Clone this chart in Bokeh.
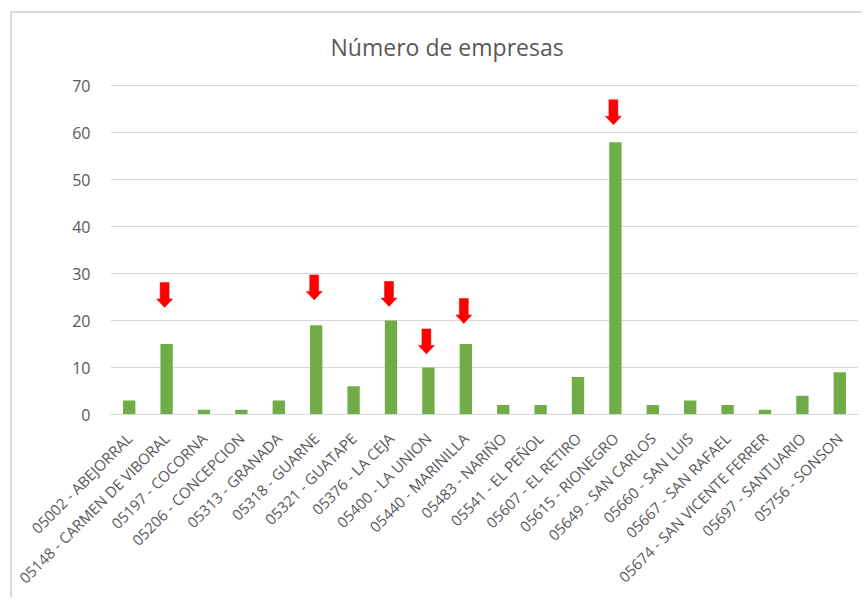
import math
from bokeh.plotting import figure
from bokeh.models import ColumnDataSource, FactorRange, Range1d, FixedTicker
from bokeh.embed import file_html
from bokeh.resources import INLINE
from bokeh.core.properties import value

# ---- data ----
categories = [
    "05002 - ABEJORRAL", "05148 - CARMEN DE VIBORAL", "05197 - COCORNA",
    "05206 - CONCEPCION", "05313 - GRANADA", "05318 - GUARNE", "05321 - GUATAPE",
    "05376 - LA CEJA", "05400 - LA UNION", "05440 - MARINILLA", "05483 - NARIÑO",
    "05541 - EL PEÑOL", "05607 - EL RETIRO", "05615 - RIONEGRO",
    "05649 - SAN CARLOS", "05660 - SAN LUIS", "05667 - SAN RAFAEL",
    "05674 - SAN VICENTE FERRER", "05697 - SANTUARIO", "05756 - SONSON",
]
empresas = [3, 15, 1, 1, 3, 19, 6, 20, 10, 15, 2, 2, 8, 58, 2, 3, 2, 1, 4, 9]
y_ticks = [0, 10, 20, 30, 40, 50, 60, 70]

# categories marked with red arrows, and the value where each arrow tip points
arrow_categories = [
    "05148 - CARMEN DE VIBORAL", "05318 - GUARNE", "05376 - LA CEJA",
    "05400 - LA UNION", "05440 - MARINILLA", "05615 - RIONEGRO",
]
arrow_tips = [22.8, 24.4, 23.0, 12.9, 19.4, 61.7]

title_text = "Número de empresas"

# ---- styles ----
FONT = "Open Sans"
TEXT_COLOR = "#595959"
GRID_COLOR = "#d9d9d9"
BAR_COLOR = "#70ad47"
ARROW_COLOR = "#ff0000"

FRAME_W = 748
PX_PER_UNIT_Y = 4.7                  # 70 units span 329 px
Y_TOP = 82                           # headroom above the last tick holds the title
FRAME_H = round(Y_TOP * PX_PER_UNIT_Y)
px_x = FRAME_W / len(categories)     # pixels per category unit
px_y = FRAME_H / Y_TOP               # pixels per value unit

p = figure(
    x_range=FactorRange(*categories),
    y_range=Range1d(0, Y_TOP),
    frame_width=FRAME_W, frame_height=FRAME_H,
    min_border_left=98, min_border_right=4,
    min_border_top=16, min_border_bottom=180,
    output_backend="svg", toolbar_location=None,
)
p.styles = {
    "border-left": "2px solid #d9d9d9",
    "border-top": "2px solid #d9d9d9",
    "margin-left": "10px",
    "margin-top": "11px",
}
p.outline_line_color = None
p.background_fill_color = "white"
p.border_fill_color = "white"

# chart title, centred over the chart area
TITLE_Y = 78.3
p.text(x=[len(categories) * 0.45], y=[TITLE_Y], text=[title_text],
       text_align="center", text_baseline="alphabetic",
       text_font=value(FONT), text_font_size="23px", text_color=TEXT_COLOR)

src = ColumnDataSource(dict(cat=categories, val=empresas))
p.vbar(x="cat", top="val", width=0.33, source=src, fill_color=BAR_COLOR, line_color=None)

# block arrows (shaft + head), sized in pixels, converted to data units
ARROW_DX = -2.0 / px_x
SHAFT_HW = 4.5 / px_x
HEAD_HW = 8.0 / px_x
HEAD_LEN = 8.5 / px_y
ARROW_LEN = 25.0 / px_y
axs, ays = [], []
for cat, tip in zip(arrow_categories, arrow_tips):
    cx = categories.index(cat) + 0.5 + ARROW_DX
    top = tip + ARROW_LEN
    neck = tip + HEAD_LEN
    axs.append([cx - SHAFT_HW, cx + SHAFT_HW, cx + SHAFT_HW, cx + HEAD_HW, cx, cx - HEAD_HW, cx - SHAFT_HW])
    ays.append([top, top, neck, neck, tip, neck, neck])
p.patches(xs=axs, ys=ays, fill_color=ARROW_COLOR, line_color=ARROW_COLOR, line_width=0.5)

# axes
p.xaxis.axis_line_color = GRID_COLOR
p.xaxis.axis_line_width = 1
p.xaxis.major_tick_line_color = None
p.xaxis.minor_tick_line_color = None
p.xaxis.major_label_orientation = math.pi / 4
p.xaxis.major_label_text_font = FONT
p.xaxis.major_label_text_font_size = "15px"
p.xaxis.major_label_text_color = TEXT_COLOR
p.xaxis.major_label_standoff = 15
p.xgrid.grid_line_color = None

p.yaxis.ticker = FixedTicker(ticks=y_ticks)
p.yaxis.axis_line_color = None
p.yaxis.major_tick_line_color = None
p.yaxis.minor_tick_line_color = None
p.yaxis.major_label_text_font = FONT
p.yaxis.major_label_text_font_size = "16px"
p.yaxis.major_label_text_color = TEXT_COLOR
p.yaxis.major_label_standoff = 14
p.ygrid.grid_line_color = GRID_COLOR
p.ygrid.grid_line_width = 1

open("out.html", "w").write(file_html(p, INLINE))
